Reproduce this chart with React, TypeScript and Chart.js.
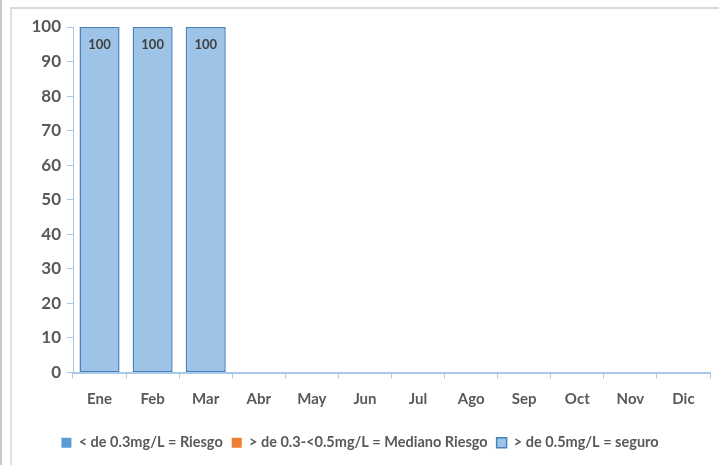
import React, { useEffect, useRef } from "react";
import { Chart, registerables } from "chart.js";

Chart.register(...registerables);

const months = ["Ene", "Feb", "Mar", "Abr", "May", "Jun", "Jul", "Ago", "Sep", "Oct", "Nov", "Dic"];
const riesgo = [0, 0, 0, null, null, null, null, null, null, null, null, null];
const medianoRiesgo = [0, 0, 0, null, null, null, null, null, null, null, null, null];
const seguro = [100, 100, 100, null, null, null, null, null, null, null, null, null];
const seriesNames = ["< de 0.3mg/L = Riesgo", "> de 0.3-<0.5mg/L = Mediano Riesgo", "> de 0.5mg/L = seguro"];
const yTicks = [0, 10, 20, 30, 40, 50, 60, 70, 80, 90, 100];

const FONT = "Lato, 'Liberation Sans Narrow', sans-serif";
const TEXT = "#595959";
const AXIS = "#A9C9EA";

const labelPlugin = {
  id: "barLabels",
  afterDatasetsDraw(chart: any) {
    const ctx = chart.ctx;
    const meta = chart.getDatasetMeta(2);
    ctx.save();
    ctx.font = "bold 13px " + FONT;
    ctx.fillStyle = "#404040";
    ctx.textAlign = "center";
    ctx.textBaseline = "middle";
    meta.data.forEach((bar: any, i: number) => {
      const v = seguro[i];
      if (v === null || v === undefined) return;
      ctx.fillText(String(v), bar.x, bar.y + 18);
    });
    ctx.restore();
  },
};

export default function App() {
  const ref = useRef<HTMLCanvasElement>(null);
  useEffect(() => {
    if (!ref.current) return;
    const chart = new Chart(ref.current, {
      type: "bar",
      data: {
        labels: months,
        datasets: [
          { label: seriesNames[0], data: riesgo as any, backgroundColor: "#5B9BD5", borderColor: "#5B9BD5", borderWidth: 0 },
          { label: seriesNames[1], data: medianoRiesgo as any, backgroundColor: "#ED7D31", borderColor: "#ED7D31", borderWidth: 0 },
          { label: seriesNames[2], data: seguro as any, backgroundColor: "#9DC3E6", borderColor: "#4A80BE", borderWidth: 1.5, borderSkipped: false },
        ],
      },
      options: {
        animation: false,
        responsive: false,
        maintainAspectRatio: false,
        layout: { padding: { left: 10, right: 9, top: 27, bottom: 5 } },
        datasets: { bar: { barPercentage: 0.755, categoryPercentage: 1 } },
        scales: {
          x: {
            stacked: true,
            offset: true,
            grid: { offset: true, drawOnChartArea: false, drawTicks: true, tickLength: 6, color: AXIS, lineWidth: 1 },
            border: { color: AXIS, width: 2 },
            ticks: { color: TEXT, font: { family: FONT, size: 15, weight: "bold" }, padding: 12 },
            afterFit: (s: any) => { s.height = 54; },
          },
          y: {
            stacked: true,
            min: 0,
            max: 100,
            afterBuildTicks: (s: any) => { s.ticks = yTicks.map((v) => ({ value: v })); },
            grid: { drawOnChartArea: false, drawTicks: true, tickLength: 6, color: AXIS, lineWidth: 1 },
            border: { color: AXIS, width: 1 },
            ticks: { color: TEXT, font: { family: FONT, size: 17, weight: "bold" }, padding: 6 },
            afterFit: (s: any) => { s.width = 63; },
          },
        },
        plugins: {
          legend: {
            position: "bottom",
            labels: {
              boxWidth: 10,
              boxHeight: 10,
              padding: 9,
              color: TEXT,
              font: { family: FONT, size: 14.5, weight: "bold" },
            },
          },
          tooltip: { enabled: false },
        },
      },
      plugins: [labelPlugin],
    });
    return () => chart.destroy();
  }, []);
  return (
    <div style={{ position: "absolute", left: 0, top: 0, width: 719, height: 465, background: "#fff", overflow: "hidden" }}>
      <div style={{ position: "absolute", left: 0, top: 0, width: 2, height: 465, background: "#c8c8c8" }} />
      <div style={{ position: "absolute", left: 10, top: 7, width: 720, height: 470, borderTop: "2px solid #d9d9d9", borderLeft: "2px solid #e0e0e0" }} />
      <canvas ref={ref} width={719} height={465} style={{ position: "absolute", left: 0, top: 0 }} />
    </div>
  );
}
